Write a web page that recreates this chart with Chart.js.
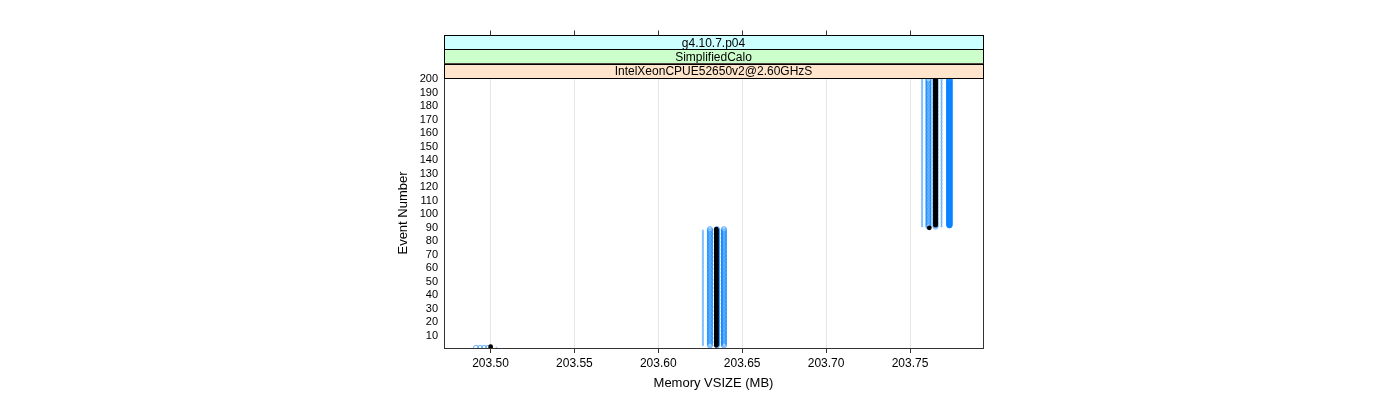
<!DOCTYPE html>
<html>
<head>
<meta charset="utf-8">
<script src="https://cdn.jsdelivr.net/npm/chart.js@4/dist/chart.umd.min.js"></script>
<style>
html,body{margin:0;padding:0;background:#fff;}
canvas{display:block;}
</style>
</head>
<body>
<canvas id="c" width="1400" height="400"></canvas>
<script>
// ---- data ----
const stripLabels = ['g4.10.7.p04', 'SimplifiedCalo', 'IntelXeonCPUE52650v2@2.60GHzS'];
const stripColors = ['#ccffff', '#ccffcc', '#ffe5cc'];
const xTickLabels = ['203.50', '203.55', '203.60', '203.65', '203.70', '203.75'];
const yTickLabels = [10,20,30,40,50,60,70,80,90,100,110,120,130,140,150,160,170,180,190,200];
const xRange = [203.4723, 203.7935];
const yRange = [1, 201];

// runs of consecutive events at constant memory (MB): memory, first event, last event
const blueMemory = [203.4914, 203.4938, 203.4962, 203.4985, 203.6308, 203.6350, 203.6391, 203.7610, 203.7652];
const blueFirst  = [1, 1, 1, 1, 3, 3, 3, 91, 91];
const blueLast   = [1, 1, 1, 1, 89, 89, 89, 200, 200];

const faintMemory = [203.5036, 203.6266, 203.6380, 203.7572, 203.7688];
const faintFirst  = [1, 3, 3, 91, 91];
const faintLast   = [1, 88, 88, 200, 200];

const solidMemory = [203.7735];
const solidFirst  = [92];
const solidLast   = [200];

const blackMemory = [203.5001, 203.6346, 203.7615, 203.7652];
const blackFirst  = [2, 3, 90, 92];
const blackLast   = [2, 89, 90, 200];

function expand(mem, first, last) {
  const pts = [];
  for (let i = 0; i < mem.length; i++) {
    for (let e = first[i]; e <= last[i]; e++) pts.push({x: mem[i], y: e});
  }
  return pts;
}

const FONT = "'Liberation Sans', Arial, Helvetica, sans-serif";

const latticePlugin = {
  id: 'lattice',
  afterDatasetsDraw(chart) {
    const {ctx, chartArea: a} = chart;
    ctx.save();
    ctx.strokeStyle = '#333';
    ctx.lineWidth = 1;
    ctx.strokeRect(Math.round(a.left) + 0.5, Math.round(a.top) + 0.5, Math.round(a.right - a.left), Math.round(a.bottom - a.top));
    ctx.restore();
  },
  afterDraw(chart) {
    const {ctx, chartArea: a} = chart;
    const xs = chart.scales.x;
    const h = 14.3;
    ctx.save();
    const l = Math.round(a.left) + 0.5, r = Math.round(a.right) + 0.5;
    for (let i = 0; i < stripLabels.length; i++) {
      const y0 = a.top - h * (stripLabels.length - i);
      ctx.fillStyle = stripColors[i];
      ctx.fillRect(l, y0, r - l, h);
      ctx.strokeStyle = '#000';
      ctx.lineWidth = 1;
      ctx.strokeRect(l, Math.round(y0) + 0.5, r - l, Math.round(h));
      ctx.fillStyle = '#000';
      ctx.font = '12px ' + FONT;
      ctx.textAlign = 'center';
      ctx.textBaseline = 'middle';
      ctx.fillText(stripLabels[i], (a.left + a.right) / 2, y0 + h / 2 + 1);
    }
    // top tick marks above the strips
    const topY = Math.round(a.top - h * stripLabels.length) + 0.5;
    ctx.strokeStyle = '#333';
    ctx.beginPath();
    xTickLabels.forEach(t => {
      const px = Math.round(xs.getPixelForValue(parseFloat(t))) + 0.5;
      ctx.moveTo(px, topY);
      ctx.lineTo(px, topY - 5);
    });
    ctx.stroke();
    ctx.restore();
  }
};

const openStyle = {pointStyle: 'circle', pointRadius: 2.6, pointBorderWidth: 0.7, pointBackgroundColor: 'rgba(0,0,0,0)', pointBorderColor: 'rgba(0,128,255,0.85)', showLine: false, clip: 0};

new Chart(document.getElementById('c'), {
  type: 'scatter',
  data: {
    datasets: [
      {label: 'black', data: expand(blackMemory, blackFirst, blackLast), pointStyle: 'circle', pointRadius: 2.4, pointBorderWidth: 0, pointBackgroundColor: '#000', pointBorderColor: '#000', showLine: false, clip: 0},
      Object.assign({label: 'blue', data: expand(blueMemory, blueFirst, blueLast)}, openStyle),
      {label: 'faint', data: expand(faintMemory, faintFirst, faintLast), pointStyle: 'circle', pointRadius: 0.7, pointBorderWidth: 0.8, pointBackgroundColor: 'rgba(0,0,0,0)', pointBorderColor: 'rgba(0,128,255,0.5)', showLine: false, clip: 0},
      {label: 'solid', data: expand(solidMemory, solidFirst, solidLast), pointStyle: 'circle', pointRadius: 2.8, pointBorderWidth: 0.8, pointBackgroundColor: '#1a88ff', pointBorderColor: '#0080ff', showLine: false, clip: 0}
    ]
  },
  options: {
    responsive: false,
    animation: false,
    devicePixelRatio: 1,
    layout: {padding: {left: 390, right: 417, top: 78, bottom: 0}},
    plugins: {legend: {display: false}, tooltip: {enabled: false}},
    scales: {
      x: {
        type: 'linear',
        min: xRange[0], max: xRange[1],
        afterBuildTicks(s) { s.ticks = xTickLabels.map(t => ({value: parseFloat(t)})); },
        afterFit(s) { s.height = 52; },
        ticks: {callback: (v, i) => xTickLabels[i], color: '#000', font: {family: FONT, size: 12}, padding: 3, maxRotation: 0, autoSkip: false},
        grid: {color: '#e6e6e6', tickColor: '#333', tickLength: 5, lineWidth: 1},
        border: {display: false},
        title: {display: true, text: 'Memory VSIZE (MB)', color: '#000', font: {family: FONT, size: 13}, padding: {top: 0, bottom: 9}}
      },
      y: {
        type: 'linear',
        min: yRange[0], max: yRange[1],
        afterBuildTicks(s) { s.ticks = yTickLabels.map(v => ({value: v})); },
        afterFit(s) { s.width = 54; },
        ticks: {callback: (v) => String(v), color: '#000', font: {family: FONT, size: 11}, padding: 6, autoSkip: false},
        grid: {display: true, color: 'rgba(0,0,0,0)', drawTicks: false},
        border: {display: false},
        title: {display: true, text: 'Event Number', color: '#000', font: {family: FONT, size: 13}, padding: {top: 6, bottom: 0}}
      }
    }
  },
  plugins: [latticePlugin]
});
</script>
</body>
</html>
